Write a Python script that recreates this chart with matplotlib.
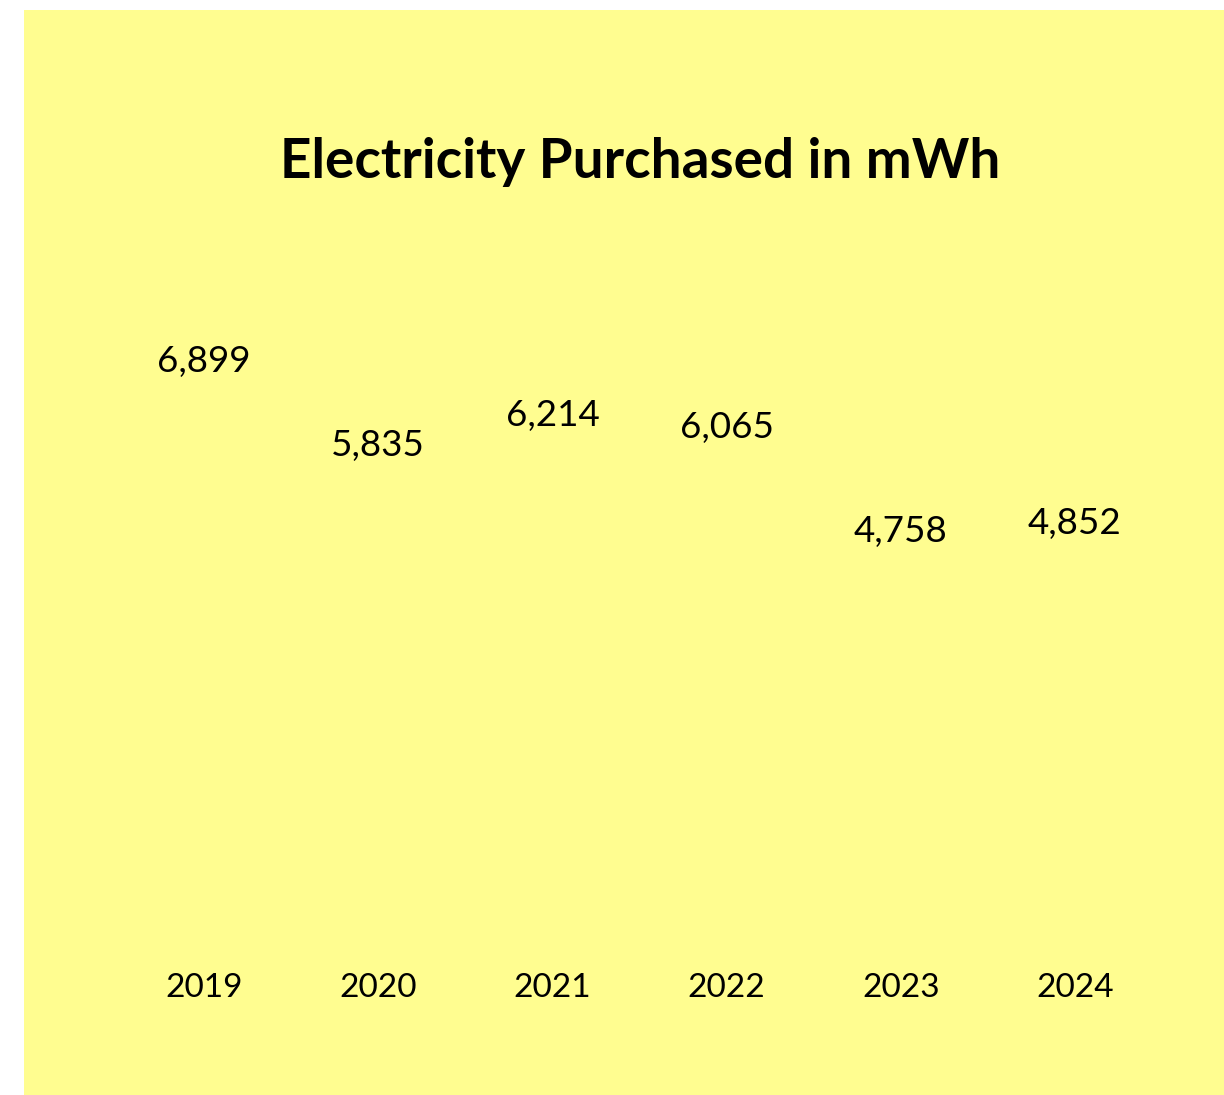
import matplotlib
matplotlib.use("Agg")
import matplotlib.pyplot as plt
from matplotlib.patches import Rectangle

# Data
years = ["2019", "2020", "2021", "2022", "2023", "2024"]
values = [6899, 5835, 6214, 6065, 4758, 4852]

bg = "#fffd90"
plt.rcParams["font.family"] = ["Lato", "DejaVu Sans"]

fig = plt.figure(figsize=(12.24, 10.95), dpi=100, facecolor="white")
# yellow panel with a thin white margin on the left and top
fig.patches.append(Rectangle((24 / 1224, 0), 1 - 24 / 1224, 1 - 10 / 1095,
                             transform=fig.transFigure, facecolor=bg,
                             edgecolor="none", zorder=-1))

ax = fig.add_axes([117 / 1224, (1095 - 926) / 1095, 1045 / 1224, 635 / 1095])
ax.set_facecolor("none")
x = range(len(years))
bars = ax.bar(x, values, width=0.6, color=bg)
for i, v in enumerate(values):
    ax.annotate(f"{v:,}", (i, v), xytext=(0, 0.5), textcoords="offset points",
                ha="center", va="bottom", fontsize=26.5, color="black")

ax.set_xlim(-0.5, len(years) - 0.5)
ax.set_ylim(0, 8000)
ax.set_xticks(list(x))
ax.set_xticklabels(years, fontsize=24)
ax.tick_params(axis="x", length=0, pad=34)
ax.set_yticks([])
for s in ax.spines.values():
    s.set_visible(False)

fig.text(640 / 1224, (1095 - 162) / 1095, "Electricity Purchased in mWh",
         ha="center", va="center", fontsize=39.5, fontweight="bold")

fig.savefig("out.png", dpi=100, facecolor="white")
